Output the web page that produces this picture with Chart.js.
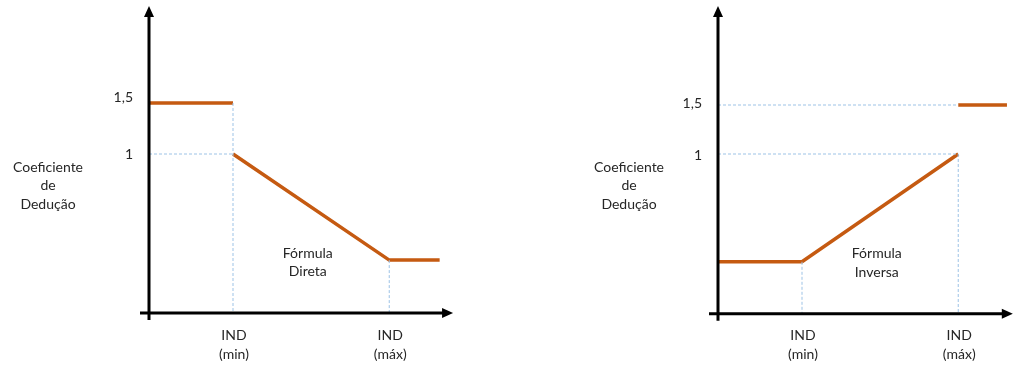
<!DOCTYPE html>
<html>
<head>
<meta charset="utf-8">
<script src="https://cdn.jsdelivr.net/npm/chart.js@4.4.1/dist/chart.umd.min.js"></script>
<style>
  body{ margin:0; background:#fff; }
  #wrap{ display:flex; width:1014px; height:367px; }
  canvas{ display:block; }
</style>
</head>
<body>
<div id="wrap">
  <canvas id="cDireta" width="507" height="367"></canvas>
  <canvas id="cInversa" width="507" height="367"></canvas>
</div>
<script>
// ====== DADOS ======
const yTickValues = [1, 1.5];
const yTickLabels = ['1', '1,5'];
const xTickValues = [1, 2.86];                 // IND(min), IND(máx)
const xTickLabels = [['IND', '(min)'], ['IND', '(máx)']];
const yTitle = ['Coeficiente', 'de', 'Dedução'];

// Fórmula Direta (null = quebra da linha)
const directX = [0, 1, 1, 1, 2.86, 3.46];
const directY = [1.5, 1.5, null, 1, -0.04, -0.04];
const directFloor = -0.56;                     // onde fica o eixo X
const directGuideX = [1, 1, 1, 0, 1, 1, 2.86, 2.86];
const directGuideY = [1.5, directFloor, null, 1, 1, null, -0.04, directFloor];

// Fórmula Inversa
const inverseX = [0, 1, 2.86, 2.86, 2.86, 3.44];
const inverseY = [-0.1, -0.1, 1, null, 1.5, 1.5];
const inverseFloor = -0.63;
const inverseGuideX = [0, 2.86, 2.86, 0, 2.86, 2.86, 1, 1, 1, 2.86, 2.86];
const inverseGuideY = [1.5, 1.5, null, 1, 1, null, -0.1, inverseFloor, null, 1, inverseFloor];

// ====== UTIL ======
const ORANGE = '#C55A11';
const GUIDE = '#9DC3E6';
const TEXT = '#262626';
const FONT = '14px Lato, "Open Sans", sans-serif';

function zip(xs, ys){ return xs.map((x, i) => ({ x: x, y: ys[i] })); }

function arrow(ctx, x, y, dir){
  ctx.beginPath();
  if(dir === 'up'){
    ctx.moveTo(x, y); ctx.lineTo(x - 5, y + 11); ctx.lineTo(x + 5, y + 11);
  } else {
    ctx.moveTo(x, y); ctx.lineTo(x - 11, y - 5); ctx.lineTo(x - 11, y + 5);
  }
  ctx.closePath();
  ctx.fill();
}

const drawExtras = {
  id: 'drawExtras',
  afterDatasetsDraw(chart){
    const p = chart.options.plugins.drawExtras;
    const ctx = chart.ctx;
    const xs = chart.scales.x, ys = chart.scales.y;
    const ax = xs.getPixelForValue(0);
    const ay = ys.getPixelForValue(p.floor);
    const xEnd = xs.getPixelForValue(p.xArrowEnd);

    ctx.save();
    // eixos
    ctx.strokeStyle = '#000';
    ctx.fillStyle = '#000';
    ctx.lineWidth = 3;
    ctx.beginPath();
    ctx.moveTo(ax, ay + 7); ctx.lineTo(ax, 14);
    ctx.moveTo(ax - 9, ay); ctx.lineTo(xEnd - 8, ay);
    ctx.stroke();
    arrow(ctx, ax, 6, 'up');
    arrow(ctx, xEnd, ay, 'right');

    // textos
    ctx.fillStyle = TEXT;
    ctx.font = FONT;
    ctx.textBaseline = 'middle';

    ctx.textAlign = 'right';
    yTickValues.forEach((v, i) => {
      ctx.fillText(yTickLabels[i], ax - 16, ys.getPixelForValue(v) + p.tickShift[i]);
    });

    ctx.textAlign = 'center';
    xTickValues.forEach((v, i) => {
      const px = xs.getPixelForValue(v);
      xTickLabels[i].forEach((t, j) => ctx.fillText(t, px + 1, ay + 22 + j * 19));
    });

    yTitle.forEach((t, j) => ctx.fillText(t, ax + p.titleOffset, 167 + j * 18.5));

    const fx = xs.getPixelForValue(p.formulaX);
    p.formula.forEach((t, j) => ctx.fillText(t, fx, ay - 60 + j * 18.5));
    ctx.restore();
  }
};

function makeChart(id, p){
  // escala: eixo Y em axisPx, pxPerX por unidade; valor 1 em y1Px, pxPerY por unidade
  const W = 507, H = 367;
  const scaleX = { type: 'linear', display: false,
    min: -p.axisPx / p.pxPerX, max: (W - p.axisPx) / p.pxPerX };
  const scaleY = { type: 'linear', display: false,
    min: 1 - (H - p.y1Px) / p.pxPerY, max: 1 + p.y1Px / p.pxPerY };

  return new Chart(document.getElementById(id), {
    type: 'line',
    data: {
      datasets: [
        {
          data: zip(p.guideX, p.guideY),
          borderColor: GUIDE, borderWidth: 1, borderDash: [3, 2],
          pointRadius: 0, spanGaps: false, tension: 0
        },
        {
          data: zip(p.lineX, p.lineY),
          borderColor: ORANGE, borderWidth: 3.5, borderCapStyle: 'butt',
          pointRadius: 0, spanGaps: false, tension: 0
        }
      ]
    },
    options: {
      responsive: false,
      animation: false,
      layout: { padding: 0 },
      scales: { x: scaleX, y: scaleY },
      plugins: {
        legend: { display: false },
        tooltip: { enabled: false },
        drawExtras: p
      }
    },
    plugins: [drawExtras]
  });
}

makeChart('cDireta', {
  lineX: directX, lineY: directY, guideX: directGuideX, guideY: directGuideY,
  floor: directFloor, xArrowEnd: 3.62,
  axisPx: 149, pxPerX: 84, y1Px: 154, pxPerY: 102,
  tickShift: [0, -6], titleOffset: -101,
  formulaX: 1.89, formula: ['Fórmula', 'Direta']
});

makeChart('cInversa', {
  lineX: inverseX, lineY: inverseY, guideX: inverseGuideX, guideY: inverseGuideY,
  floor: inverseFloor, xArrowEnd: 3.51,
  axisPx: 211, pxPerX: 84, y1Px: 154, pxPerY: 98,
  tickShift: [1, -2], titleOffset: -89,
  formulaX: 1.89, formula: ['Fórmula', 'Inversa']
});
</script>
</body>
</html>
